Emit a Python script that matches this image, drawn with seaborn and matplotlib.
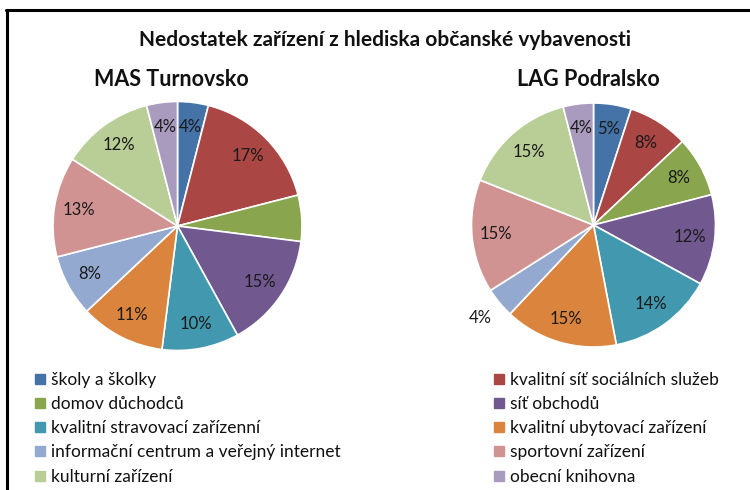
import matplotlib
matplotlib.use("Agg")
import matplotlib.pyplot as plt
import seaborn as sns
from matplotlib.lines import Line2D
import numpy as np

categories = [
    "školy a školky",
    "kvalitní síť sociálních služeb",
    "domov důchodců",
    "síť obchodů",
    "kvalitní stravovací zařízenní",
    "kvalitní ubytovací zařízení",
    "informační centrum a veřejný internet",
    "sportovní zařízení",
    "kulturní zařízení",
    "obecní knihovna",
]
turnovsko = [4, 17, 6, 15, 10, 11, 8, 13, 12, 4]
podralsko = [5, 8, 8, 12, 14, 15, 4, 15, 15, 4]
colors = ["#4572A7", "#AA4643", "#89A54E", "#71588F", "#4198AF",
          "#DB843D", "#93A9CF", "#D19392", "#B9CD96", "#A99BBD"]

title = "Nedostatek zařízení z hlediska občanské vybavenosti"
titles = ["MAS Turnovsko", "LAG Podralsko"]

sns.set_theme(style="white")
palette = sns.color_palette(colors)
FONT = ["Lato", "DejaVu Sans"]
plt.rcParams["font.family"] = FONT

W, H = 750, 490
fig = plt.figure(figsize=(7.5, 4.9), dpi=100)

def box(cx, cy, r):
    return [(cx - r) / W, 1 - (cy + r) / H, 2 * r / W, 2 * r / H]

specs = [
    (turnovsko, box(177.5, 226, 124.5)),
    (podralsko, box(593.5, 225, 122)),
]

axes = []
for vals, pos in specs:
    ax = fig.add_axes(pos)
    wedges, texts, autotexts = ax.pie(
        vals, colors=palette, startangle=90, counterclock=False,
        autopct=lambda p: f"{p:.0f}%", pctdistance=0.8,
        wedgeprops=dict(edgecolor="white", linewidth=1.2),
        textprops=dict(fontsize=12, color="#1a1a1a"),
    )
    ax.set_xlim(-1, 1)
    ax.set_ylim(-1, 1)
    ax.set_aspect("auto")
    ax.axis("off")
    axes.append((ax, wedges, autotexts))

# left pie: green slice label hidden
axes[0][2][2].set_text("")
# right pie: small "informační" label placed outside
w = axes[1][1][6]
ang = np.deg2rad((w.theta1 + w.theta2) / 2)
axes[1][2][6].set_position((1.2 * np.cos(ang), 1.2 * np.sin(ang)))

fig.text(385 / W, 1 - 40 / H, title, ha="center", va="center",
         fontsize=15, fontweight="bold", color="#111111")
fig.text(171 / W, 1 - 80 / H, titles[0], ha="center", va="center",
         fontsize=15.5, fontweight="bold", color="#111111")
fig.text(588 / W, 1 - 80 / H, titles[1], ha="center", va="center",
         fontsize=15.5, fontweight="bold", color="#111111")

order_left = [0, 2, 4, 6, 8]
order_right = [1, 3, 5, 7, 9]
for order, x in ((order_left, 35), (order_right, 494)):
    handles = [Line2D([], [], marker="s", linestyle="", markersize=6.5,
                      markerfacecolor=palette[i], markeredgecolor=palette[i])
               for i in order]
    labels = [categories[i] for i in order]
    fig.legend(handles, labels, loc="upper left",
               bbox_to_anchor=(x / W, 1 - 372 / H), frameon=False,
               fontsize=12.5, handlelength=0.6, handletextpad=0.3,
               labelspacing=0.47, borderpad=0, borderaxespad=0,
               labelcolor="#111111")

# frame (left and top edges visible)
fig.add_artist(plt.Line2D([7 / W, 7 / W], [0, 1 - 10 / H], color="black",
                          linewidth=2.2, transform=fig.transFigure))
fig.add_artist(plt.Line2D([6 / W, 1], [1 - 10 / H, 1 - 10 / H], color="black",
                          linewidth=2.2, transform=fig.transFigure))

fig.savefig("out.png", dpi=100, facecolor="white")
